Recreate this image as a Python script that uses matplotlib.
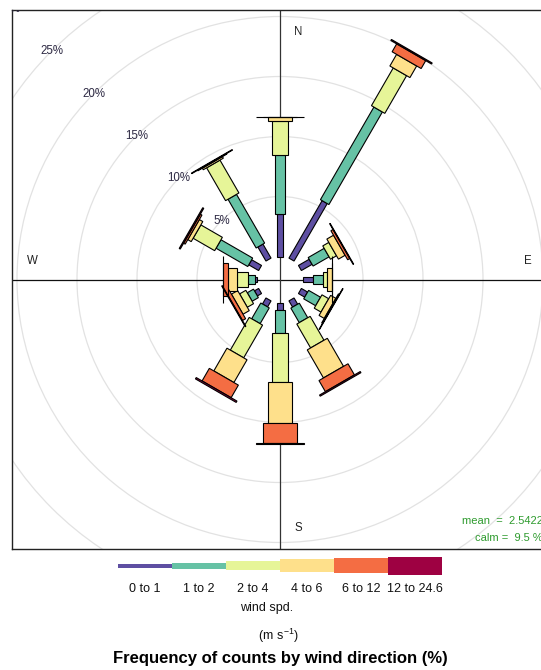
import numpy as np
import matplotlib
matplotlib.use("Agg")
import matplotlib.pyplot as plt
from matplotlib.patches import Polygon, Circle, Rectangle

plt.rcParams['font.family'] = ['Liberation Sans', 'DejaVu Sans']
plt.rcParams['mathtext.fontset'] = 'custom'
plt.rcParams['mathtext.rm'] = 'Liberation Sans'

# ---- data: frequency (%) of counts by wind direction and speed bin ----
directions = [0, 30, 60, 90, 120, 150, 180, 210, 240, 270, 300, 330]
speed_bins = ["0 to 1", "1 to 2", "2 to 4", "4 to 6", "6 to 12", "12 to 24.6"]

freq_0_1 = [3.58, 5.53, 1.03, 0.86, 0.60, 0.60, 0.64, 0.58, 0.40, 0.20, 0.95, 1.35]
freq_1_2 = [4.92, 8.91, 1.54, 0.78, 1.15, 1.40, 1.94, 1.52, 0.60, 0.55, 3.05, 4.69]
freq_2_4 = [2.83, 3.63, 0.58, 0.39, 0.65, 2.30, 4.03, 3.15, 0.60, 0.95, 2.07, 3.16]
freq_4_6 = [0.27, 1.12, 0.64, 0.36, 0.50, 2.70, 3.47, 2.19, 0.60, 0.70, 0.33, 0.15]
freq_6_12 = [0.02, 0.76, 0.20, 0.03, 0.08, 1.07, 1.61, 1.21, 0.30, 0.40, 0.15, 0.05]
freq_12_24 = [0.03, 0.10, 0.05, 0.03, 0.04, 0.11, 0.06, 0.13, 0.06, 0.05, 0.10, 0.05]

grid_pcts = [5, 10, 15, 20, 25, 30]
mean_ws = "2.5422"
calm_pct = "9.5"

series = [freq_0_1, freq_1_2, freq_2_4, freq_4_6, freq_6_12, freq_12_24]
colours = ["#5E4FA2", "#66C2A5", "#E6F598", "#FEE08B", "#F46D43", "#9E0142"]

# ---- figure geometry (pixels) ----
W, H = 541, 670
fig = plt.figure(figsize=(W / 100, H / 100), dpi=100)

px_per_pct = 12.0
cx, cy = 280.0, 279.5
p_left, p_right, p_top, p_bottom = 12.0, 548.5, 10.0, 548.5
hole = 23.0 / px_per_pct  # central calm hole, in % units

ax = fig.add_axes([p_left / W, 1 - p_bottom / H,
                   (p_right - p_left) / W, (p_bottom - p_top) / H])
ax.set_xlim((p_left - cx) / px_per_pct, (p_right - cx) / px_per_pct)
ax.set_ylim((cy - p_bottom) / px_per_pct, (cy - p_top) / px_per_pct)
ax.set_xticks([]); ax.set_yticks([])
for s in ax.spines.values():
    s.set_color("#222222"); s.set_linewidth(1.0)

# grid circles and their labels along 315 degrees
for g in grid_pcts:
    ax.add_patch(Circle((0, 0), hole + g, fill=False, ec="#e2e2e2", lw=0.9, zorder=1))
    r = hole + g
    ang = np.deg2rad(315)
    ax.text(r * np.sin(ang), r * np.cos(ang), f"{g}%", ha="center", va="center",
            fontsize=8.3, color="#2e2a44", zorder=6, clip_on=True)

ax.axhline(0, color="#111111", lw=0.9, zorder=2)
ax.axvline(0, color="#333333", lw=0.9, zorder=2)

# paddle widths grow with speed bin
box_widths = np.linspace(0.002 ** 0.25, 0.016 ** 0.25, len(speed_bins)) ** 4
half_w = 1.96 * box_widths / box_widths[-1]

for i, d in enumerate(directions):
    th = np.deg2rad(d)
    u = np.array([np.sin(th), np.cos(th)])
    v = np.array([np.cos(th), -np.sin(th)])
    cum = 0.0
    for j, ser in enumerate(series):
        f = ser[i]
        r1 = hole + cum
        r2 = hole + cum + f
        hw = half_w[j]
        pts = [r1 * u + hw * v, r1 * u - hw * v, r2 * u - hw * v, r2 * u + hw * v]
        ax.add_patch(Polygon(pts, closed=True, fc=colours[j], ec="black",
                             lw=0.8, zorder=3 + j * 0.01, joinstyle="miter"))
        cum += f

# compass labels
comp = {"N": (1.5, 20.6), "E": (20.67, 1.5), "S": (1.5, -20.67), "W": (-20.67, 1.5)}
for k, (x, y) in comp.items():
    ax.text(x, y, k, ha="center", va="center", fontsize=8.3, color="#222222", zorder=6)

# overlay in pixel coordinates for annotations and key
ov = fig.add_axes([0, 0, 1, 1], zorder=5)
ov.set_xlim(0, W); ov.set_ylim(H, 0)
ov.axis("off")
ov.patch.set_alpha(0)

green = "#2e9b2e"
ov.text(543, 521, f"mean  =  {mean_ws}", ha="right", va="center", fontsize=8, color=green)
ov.text(543, 538, f"calm =  {calm_pct} %", ha="right", va="center", fontsize=8, color=green)

edges = np.linspace(118, 442, len(speed_bins) + 1)
key_heights = [4, 6, 9, 12.5, 14.5, 18]
key_y = 565.5
for j, lab in enumerate(speed_bins):
    x0, x1 = edges[j], edges[j + 1]
    h = key_heights[j]
    ov.add_patch(Rectangle((x0, key_y - h / 2), x1 - x0, h, fc=colours[j], ec="none"))
    ov.text((x0 + x1) / 2, 589, lab, ha="center", va="center", fontsize=9, color="#111111")

ov.text(266.5, 608, "wind spd.", ha="center", va="center", fontsize=9, color="#111111")
ov.text(278, 636, r"$\mathregular{(m\ s^{-1})}$", ha="center", va="center", fontsize=9, color="#111111")
ov.text(280, 659, "Frequency of counts by wind direction (%)", ha="center", va="center",
        fontsize=12, fontweight="bold", color="black")

fig.savefig("out.png", dpi=100)
